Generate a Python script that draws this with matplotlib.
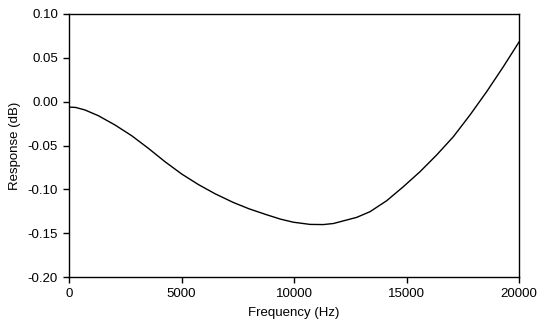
import matplotlib
matplotlib.use('Agg')
import matplotlib.pyplot as plt

plt.rcParams['font.family'] = ['Liberation Sans', 'DejaVu Sans']

# values
freq = [0, 300, 711, 1304, 2044, 2785, 3526, 4267, 5007, 5748, 6489, 7304,
        8000, 8785, 9400, 9970, 10711, 11300, 11748, 12785, 13378, 14119,
        14859, 15600, 16341, 17081, 17822, 18563, 19304, 20000]
resp = [-0.0062, -0.0066, -0.0095, -0.0160, -0.0266, -0.0388, -0.0532,
        -0.0685, -0.0825, -0.0945, -0.1050, -0.1150, -0.1222, -0.1290,
        -0.1340, -0.1375, -0.1400, -0.1402, -0.1390, -0.1320, -0.1255,
        -0.1130, -0.0970, -0.0799, -0.0608, -0.0400, -0.0152, 0.0114,
        0.0399, 0.0680]

fig = plt.figure(figsize=(5.43, 3.34), dpi=100)
ax = fig.add_axes([69 / 543, 1 - 277 / 334, 450 / 543, 263 / 334])
ax.plot(freq, resp, color='black', lw=1.0)

ax.set_xlim(0, 20000)
ax.set_ylim(-0.20, 0.10)
ax.set_xticks([0, 5000, 10000, 15000, 20000])
ax.set_yticks([-0.20, -0.15, -0.10, -0.05, 0.00, 0.05, 0.10])
ax.set_yticklabels(['-0.20', '-0.15', '-0.10', '-0.05', '0.00', '0.05', '0.10'])
ax.tick_params(direction='out', length=4, width=1, labelsize=9.5, pad=4)
for s in ax.spines.values():
    s.set_linewidth(1)
ax.set_xlabel('Frequency (Hz)', fontsize=9.5, labelpad=5)
ax.set_ylabel('Response (dB)', fontsize=9.5, labelpad=5)

fig.savefig('out.png', dpi=100)
